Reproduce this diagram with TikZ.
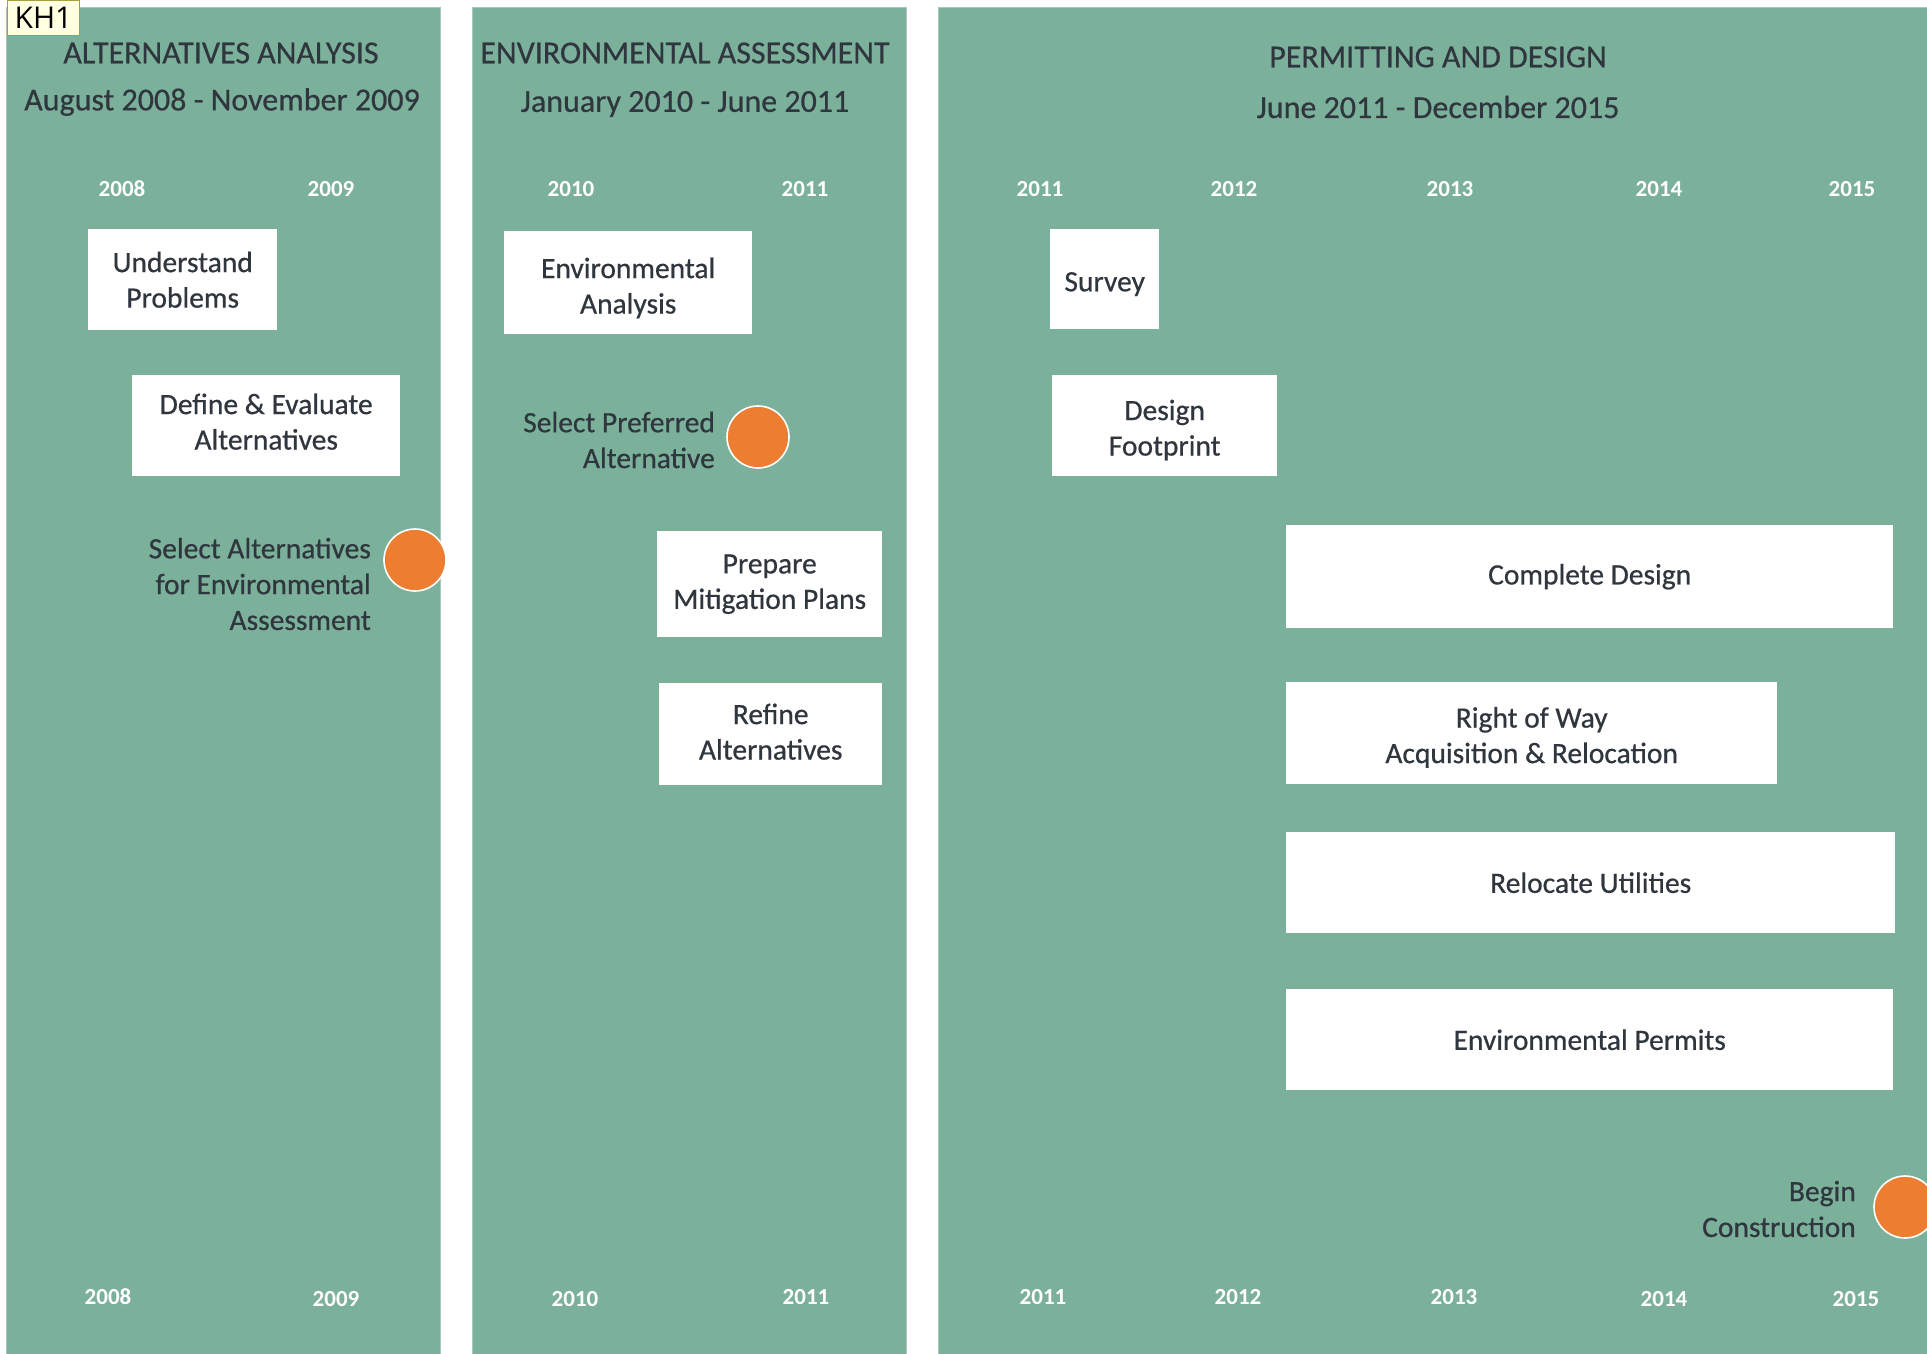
\documentclass[tikz,border=0pt]{standalone}
\usepackage{fontspec}
\setmainfont{Carlito}
\newfontfamily\kfont{Open Sans}
\definecolor{panelg}{HTML}{7BB09B}
\definecolor{panelb}{HTML}{A8C8BB}
\definecolor{dot}{HTML}{ED7D31}
\definecolor{txt}{HTML}{30363E}
\definecolor{tipfill}{HTML}{FFFFE1}
\definecolor{tipdraw}{HTML}{A89F3C}
\newcommand\shiftlines[2]{\raisebox{#1}[\height][\depth]{\begin{tabular}{@{}c@{}}#2\end{tabular}}}
\tikzset{
  panel/.style={fill=panelg, draw=panelb, line width=0.8pt},
  ttl/.style={text=txt, font=\addfontfeature{FakeBold=0.5}\fontsize{32}{38}\selectfont, inner sep=0pt},
  yr/.style={text=white, font=\fontsize{23}{27}\selectfont\bfseries, inner sep=0pt},
  tbox/.style={fill=white, draw=none, inner sep=0pt, anchor=north west, align=center, text=txt, font=\addfontfeature{FakeBold=0.6}\fontsize{29.5}{35.5}\selectfont},
  lbl/.style={text=txt, inner sep=0pt, anchor=east, align=right, font=\addfontfeature{FakeBold=0.6}\fontsize{29.5}{35.8}\selectfont},
  mile/.style={circle, fill=dot, draw=white, line width=1.6pt, minimum size=62pt, inner sep=0pt}
}
\begin{document}
\begin{tikzpicture}[x=1pt, y=-1pt]
\useasboundingbox (0,0) rectangle (1927,1353);
\fill[white] (0,0) rectangle (1927,1353);
% panels
\path[panel] (6,7) rectangle (440,1360);
\path[panel] (472,7) rectangle (906,1360);
\path[panel] (938,7) rectangle (1935,1360);

% titles
\node[ttl] (t1) at (221,53) {ALTERNATIVES ANALYSIS};
\node[ttl] (d1) at (222,102) {August 2008 - November 2009};
\node[ttl] (t2) at (685,53) {ENVIRONMENTAL ASSESSMENT};
\node[ttl] (d2) at (685,104) {January 2010 - June 2011};
\node[ttl] (t3) at (1438,57) {PERMITTING AND DESIGN};
\node[ttl] (d3) at (1438,107) {June 2011 - December 2015};

% years top
\node[yr] (y1a) at (122,189) {2008};
\node[yr] (y1b) at (331,189) {2009};
\node[yr] (y2a) at (571,189) {2010};
\node[yr] (y2b) at (805,189) {2011};
\node[yr] (y3a) at (1040,189) {2011};
\node[yr] (y3b) at (1234,189) {2012};
\node[yr] (y3c) at (1450,189) {2013};
\node[yr] (y3d) at (1659,189) {2014};
\node[yr] (y3e) at (1852,189) {2015};
% years bottom
\node[yr] (z1a) at (108,1297) {2008};
\node[yr] (z1b) at (336,1299) {2009};
\node[yr] (z2a) at (575,1299) {2010};
\node[yr] (z2b) at (806,1297) {2011};
\node[yr] (z3a) at (1043,1297) {2011};
\node[yr] (z3b) at (1238,1297) {2012};
\node[yr] (z3c) at (1454,1297) {2013};
\node[yr] (z3d) at (1664,1299) {2014};
\node[yr] (z3e) at (1856,1299) {2015};

% panel 1
\node[tbox, minimum width=189pt, minimum height=101pt] (up) at (88,229) {Understand\\Problems};
\node[tbox, minimum width=268pt, minimum height=101pt] (de) at (132,375) {\shiftlines{1pt}{Define \& Evaluate\\Alternatives}};
\node[lbl] (sa) at (371,584) {Select Alternatives\\for Environmental\\Assessment};
\node[mile] (m1) at (415,560) {};

% panel 2
\node[tbox, minimum width=248pt, minimum height=103pt] (ea) at (504,231) {\shiftlines{-6pt}{Environmental\\Analysis}};
\node[lbl] (sp) at (715,440) {Select Preferred\\Alternative};
\node[mile] (m2) at (758,437) {};
\node[tbox, minimum width=225pt, minimum height=106pt] (pm) at (657,531) {Prepare\\Mitigation Plans};
\node[tbox, minimum width=223pt, minimum height=102pt] (ra) at (659,683) {\shiftlines{-0.5pt}{Refine\\Alternatives}};

% panel 3
\node[tbox, minimum width=109pt, minimum height=100pt] (sv) at (1050,229) {\shiftlines{-5pt}{Survey}};
\node[tbox, minimum width=225pt, minimum height=101pt] (df) at (1052,375) {\shiftlines{-5pt}{Design\\Footprint}};
\node[tbox, minimum width=607pt, minimum height=103pt] (cd) at (1286,525) {Complete Design};
\node[tbox, minimum width=491pt, minimum height=102pt] (rw) at (1286,682) {\shiftlines{-5pt}{Right of Way\\Acquisition \& Relocation}};
\node[tbox, minimum width=609pt, minimum height=101pt] (ru) at (1286,832) {Relocate Utilities};
\node[tbox, minimum width=607pt, minimum height=101pt] (ep) at (1286,989) {Environmental Permits};
\node[lbl] (bc) at (1856,1209) {Begin\\Construction};
\node[mile] (m3) at (1905,1207) {};

% tooltip label
\node[fill=tipfill, draw=tipdraw, line width=1pt, anchor=north west, minimum width=72pt, minimum height=35pt, inner sep=0pt, font=\kfont\fontsize{30}{34}\selectfont] (kh) at (7,0) {KH1};
\end{tikzpicture}
\end{document}
